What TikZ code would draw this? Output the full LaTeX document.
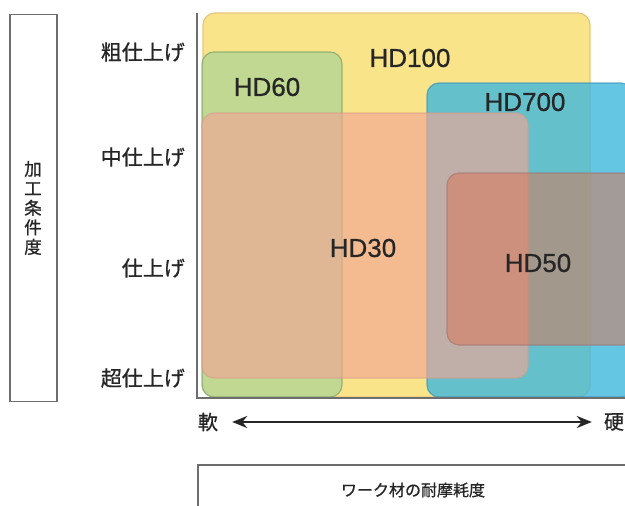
\documentclass[tikz,border=0pt]{standalone}
\usepackage{fontspec}
\setmainfont{Liberation Sans}
\newfontfamily\hdfont{Liberation Sans}[FakeBold=0.7]
\newfontfamily\jp{Noto Sans CJK JP}[FakeBold=0.9]
\usetikzlibrary{arrows.meta}
\definecolor{yfill}{HTML}{F9E48A}
\definecolor{ydraw}{HTML}{E8C47E}
\definecolor{gfill}{HTML}{AED495}
\definecolor{gdraw}{HTML}{86A868}
\definecolor{bfill}{HTML}{3FB8DC}
\definecolor{bdraw}{HTML}{3A8FB8}
\definecolor{ofill}{HTML}{F2A696}
\definecolor{odraw}{HTML}{D89A8A}
\definecolor{rfill}{HTML}{D6785A}
\definecolor{rdraw}{HTML}{A07070}
\definecolor{frame}{HTML}{6E6E6E}
\begin{document}
\begin{tikzpicture}[x=1pt,y=-1pt,
  zone/.style={rectangle, rounded corners=12pt, line width=1.2pt, inner sep=0pt},
  hdlabel/.style={font=\hdfont\fontsize{26}{28}\selectfont, text=black!85, inner sep=0pt},
  rowlabel/.style={font=\jp\fontsize{21}{24}\selectfont, anchor=east, inner sep=0pt, text=black!85},
  frm/.style={draw=frame, line width=1.3pt, rectangle, inner sep=0pt}]
\useasboundingbox (0,0) rectangle (625,506);
\clip (0,0) rectangle (625,506);
% left frame
\node[frm, minimum width=47pt, minimum height=387pt] (lbox) at (33.5,208) {};
\node[font=\jp\fontsize{17.5}{19.5}\selectfont, align=center, inner sep=0pt, text=black!85] (ltext) at (33,208) {加\\工\\条\\件\\度};
% row labels
\node[rowlabel] (r1) at (185,52) {粗仕上げ};
\node[rowlabel] (r2) at (185,157) {中仕上げ};
\node[rowlabel] (r3) at (185,268) {仕上げ};
\node[rowlabel] (r4) at (185,378) {超仕上げ};
% zones
\node[zone, fill=yfill, draw=ydraw, minimum width=387pt, minimum height=384pt] (hd100) at (396.5,205) {};
\node[zone, fill=gfill, fill opacity=0.75, draw=gdraw, draw opacity=0.8, minimum width=140pt, minimum height=345pt] (hd60) at (272,224.5) {};
\node[zone, fill=bfill, fill opacity=0.8, draw=bdraw, draw opacity=0.7, minimum width=206pt, minimum height=314pt] (hd700) at (530,240) {};
\node[zone, fill=ofill, fill opacity=0.65, draw=odraw, draw opacity=0.6, minimum width=326pt, minimum height=265pt] (hd30) at (365,245.5) {};
\node[zone, fill=rfill, fill opacity=0.55, draw=rdraw, draw opacity=0.6, minimum width=188pt, minimum height=172pt] (hd50) at (541,259) {};
% zone labels
\node[hdlabel] (l100) at (410,58) {HD100};
\node[hdlabel] (l60) at (267,87) {HD60};
\node[hdlabel] (l700) at (525,102) {HD700};
\node[hdlabel] (l30) at (363,248) {HD30};
\node[hdlabel] (l50) at (538,263) {HD50};
% axes
\coordinate (ytop) at (197,13);
\coordinate (orig) at (197,398);
\coordinate (xend) at (626,398);
\draw[draw=frame, line width=1.4pt] (ytop) -- (orig) -- (xend);
% hardness arrow
\node[font=\jp\fontsize{20}{22}\selectfont, inner sep=0pt, text=black!85] (soft) at (208,422) {軟};
\node[font=\jp\fontsize{20}{22}\selectfont, inner sep=0pt, text=black!85] (hard) at (614,422) {硬};
\draw[line width=2.4pt, black!85, {Stealth[length=15pt,width=12pt]}-{Stealth[length=15pt,width=12pt]}, shorten <=14pt, shorten >=12pt] (soft) -- (hard);
% bottom frame
\node[frm, minimum width=442pt, minimum height=55pt] (bbox) at (419,492.5) {};
\node[font=\jp\fontsize{16}{18}\selectfont, inner sep=0pt, text=black!85] (btext) at (413,490) {ワーク材の耐摩耗度};
\end{tikzpicture}
\end{document}
